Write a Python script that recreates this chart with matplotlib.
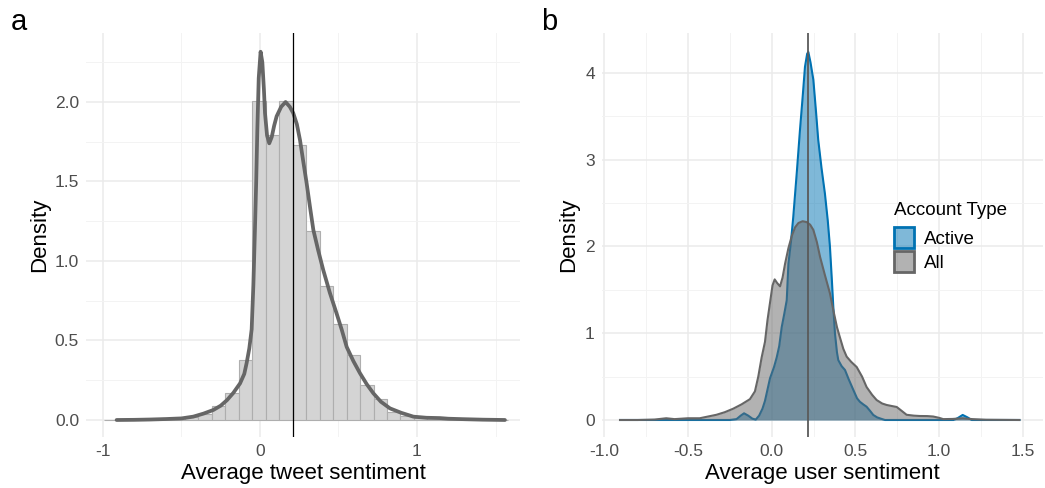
import matplotlib
matplotlib.use("Agg")
import matplotlib.pyplot as plt
from matplotlib.patches import Patch
from matplotlib.ticker import MultipleLocator
import numpy as np

plt.rcParams.update({
    "font.family": ["Liberation Sans", "DejaVu Sans"],
    "axes.unicode_minus": False,
})

GRID_MAJ = "#EBEBEB"
GRID_MIN = "#F3F3F3"
TICK_COL = "#4D4D4D"
BLUE = "#0072B2"
GREY = "#666666"

# ── panel a: histogram of tweet sentiment (30 bins) ───────────────────────────
bin_start = -0.995
bin_width = 0.0859
hist_heights = [0.003, 0.003, 0.003, 0.003, 0.005, 0.010, 0.020, 0.040,
                0.088, 0.168, 0.378, 2.006, 1.794, 2.006, 1.730, 1.186,
                0.844, 0.604, 0.407, 0.220, 0.130, 0.050, 0.025, 0.015,
                0.010, 0.008, 0.005, 0.004, 0.003, 0.003]

tweet_x = [-0.913, -0.8, -0.7, -0.6, -0.5, -0.425, -0.36, -0.297, -0.25, -0.21,
           -0.17, -0.127, -0.1, -0.085, -0.068, -0.053, -0.042, -0.032, -0.024,
           -0.017, -0.008, 0.004, 0.015, 0.025, 0.032, 0.045, 0.059, 0.075, 0.09,
           0.106, 0.135, 0.163, 0.19, 0.212, 0.235, 0.255, 0.275, 0.297, 0.32,
           0.34, 0.37, 0.403, 0.445, 0.488, 0.52, 0.552, 0.595, 0.637, 0.68,
           0.722, 0.77, 0.828, 0.9, 0.977, 1.06, 1.146, 1.2, 1.3, 1.42, 1.56]
tweet_y = [0.0, 0.001, 0.003, 0.006, 0.010, 0.021, 0.040, 0.063, 0.090, 0.125,
           0.170, 0.230, 0.290, 0.358, 0.450, 0.570, 0.850, 1.200, 1.500,
           1.820, 2.150, 2.316, 2.250, 2.080, 1.930, 1.790, 1.740, 1.780, 1.850,
           1.910, 1.970, 2.000, 1.970, 1.930, 1.860, 1.760, 1.630, 1.490, 1.330,
           1.195, 1.070, 0.943, 0.800, 0.670, 0.570, 0.460, 0.370, 0.294, 0.225,
           0.168, 0.115, 0.073, 0.045, 0.021, 0.014, 0.012, 0.008, 0.005, 0.002, 0.0]
tweet_mean = 0.212

# ── panel b: user sentiment densities ─────────────────────────────────────────
active_x = [-0.906, -0.6, -0.25, -0.21, -0.185, -0.165, -0.14, -0.115, -0.095,
            -0.075, -0.055, -0.04, -0.025, -0.01, 0.014, 0.03, 0.045, 0.06,
            0.075, 0.09, 0.1, 0.115, 0.129, 0.15, 0.169, 0.185, 0.199, 0.212,
            0.219, 0.232, 0.249, 0.265, 0.278, 0.298, 0.318, 0.335, 0.348, 0.36,
            0.368, 0.378, 0.39, 0.398, 0.418, 0.438, 0.46, 0.488, 0.51, 0.527,
            0.547, 0.567, 0.59, 0.607, 0.63, 0.657, 0.677, 1.086, 1.11, 1.141,
            1.17, 1.195, 1.48]
active_y = [0.0, 0.0, 0.0, 0.01, 0.05, 0.077, 0.05, 0.015, 0.005,
            0.05, 0.13, 0.22, 0.35, 0.48, 0.61, 0.72, 0.85, 1.07,
            1.22, 1.38, 1.8, 2.05, 2.34, 2.85, 3.34, 3.72, 4.07, 4.22,
            4.24, 4.12, 3.92, 3.55, 3.23, 2.9, 2.61, 2.3, 2.0, 1.6,
            1.31, 1.0, 0.78, 0.69, 0.62, 0.576, 0.47, 0.346, 0.25, 0.21,
            0.18, 0.153, 0.1, 0.058, 0.03, 0.012, 0.0, 0.0, 0.02, 0.058,
            0.03, 0.0, 0.0]

all_x = [-0.906, -0.8, -0.7, -0.63, -0.58, -0.5, -0.43, -0.38, -0.33, -0.28,
         -0.23, -0.18, -0.13, -0.1, -0.08, -0.06, -0.04, -0.025, -0.01, 0.005,
         0.018, 0.032, 0.05, 0.065, 0.08, 0.1, 0.12, 0.14, 0.16, 0.185, 0.209,
         0.23, 0.249, 0.27, 0.289, 0.318, 0.348, 0.37, 0.39, 0.408, 0.428,
         0.448, 0.475, 0.508, 0.54, 0.567, 0.6, 0.627, 0.66, 0.687, 0.72,
         0.747, 0.78, 0.806, 0.85, 0.885, 0.93, 0.965, 1.0, 1.025, 1.08, 1.14,
         1.2, 1.28, 1.48]
all_y = [0.0, 0.0, 0.005, 0.02, 0.01, 0.02, 0.02, 0.04, 0.06, 0.09,
         0.13, 0.18, 0.24, 0.33, 0.5, 0.72, 0.9, 1.15, 1.35, 1.55,
         1.62, 1.58, 1.54, 1.64, 1.8, 1.98, 2.12, 2.22, 2.27, 2.29, 2.28,
         2.25, 2.19, 2.05, 1.88, 1.67, 1.46, 1.25, 1.07, 0.95, 0.82,
         0.73, 0.67, 0.61, 0.5, 0.38, 0.29, 0.23, 0.19, 0.173, 0.16,
         0.15, 0.1, 0.06, 0.05, 0.046, 0.045, 0.04, 0.025, 0.01, 0.012, 0.02,
         0.01, 0.003, 0.0]
user_mean = 0.219

account_types = ["Active", "All"]

W, H = 1045, 488
fig = plt.figure(figsize=(W / 100, H / 100), dpi=100)


def px_axes(left, right, top, bottom):
    return fig.add_axes([left / W, 1 - bottom / H, (right - left) / W, (bottom - top) / H])


def style(ax):
    for s in ax.spines.values():
        s.set_visible(False)
    ax.grid(True, which="major", color=GRID_MAJ, lw=1.1, zorder=0)
    ax.grid(True, which="minor", color=GRID_MIN, lw=0.7, zorder=0)
    ax.tick_params(which="both", length=0, labelsize=12.5, labelcolor=TICK_COL, pad=5)
    ax.set_axisbelow(True)


# panel a
ax1 = px_axes(86, 520, 33, 437)
style(ax1)
edges = bin_start + bin_width * np.arange(len(hist_heights))
ax1.bar(edges, hist_heights, width=bin_width, align="edge",
        facecolor="#D4D4D4", edgecolor="#AEAEAE", lw=0.8, zorder=2)
ax1.plot(tweet_x, tweet_y, color=GREY, lw=2.7, solid_capstyle="round", zorder=3)
ax1.axvline(tweet_mean, color="black", lw=0.9, zorder=4)
ax1.set_xlim(-1.108, 1.656)
ax1.set_ylim(-0.107, 2.434)
ax1.xaxis.set_minor_locator(MultipleLocator(0.5))
ax1.yaxis.set_minor_locator(MultipleLocator(0.25))
ax1.set_xticks([-1, 0, 1])
ax1.set_xticklabels(["-1", "0", "1"])
ax1.set_yticks([0, 0.5, 1.0, 1.5, 2.0])
ax1.set_yticklabels(["0.0", "0.5", "1.0", "1.5", "2.0"])
ax1.set_xlabel("Average tweet sentiment", fontsize=16, labelpad=3)
ax1.set_ylabel("Density", fontsize=16, labelpad=3)

# panel b
ax2 = px_axes(601.7, 1043, 33, 437)
style(ax2)
ax2.fill_between(active_x, active_y, color=BLUE, alpha=0.5, lw=0, zorder=2)
ax2.plot(active_x, active_y, color=BLUE, lw=1.5, zorder=2)
ax2.fill_between(all_x, all_y, color=GREY, alpha=0.5, lw=0, zorder=3)
ax2.plot(all_x, all_y, color=GREY, lw=1.5, zorder=3)
ax2.axvline(user_mean, color="#5A5A5A", lw=1.3, zorder=4)
ax2.set_xlim(-1.0155, 1.621)
ax2.set_ylim(-0.196, 4.459)
ax2.xaxis.set_minor_locator(MultipleLocator(0.25))
ax2.yaxis.set_minor_locator(MultipleLocator(0.5))
ax2.set_xticks([-1.0, -0.5, 0.0, 0.5, 1.0, 1.5])
ax2.set_xticklabels(["-1.0", "-0.5", "0.0", "0.5", "1.0", "1.5"])
ax2.set_yticks([0, 1, 2, 3, 4])
ax2.set_yticklabels(["0", "1", "2", "3", "4"])
ax2.set_xlabel("Average user sentiment", fontsize=16, labelpad=3)
ax2.set_ylabel("Density", fontsize=16, labelpad=4)

handles = [Patch(facecolor=(0, 0x72 / 255, 0xB2 / 255, 0.5), edgecolor=BLUE, lw=2),
           Patch(facecolor=(0.4, 0.4, 0.4, 0.5), edgecolor=GREY, lw=2)]
leg = ax2.legend(handles, account_types, title="Account Type", loc="upper left",
                 bbox_to_anchor=(894 / W, 1 - 202 / H), bbox_transform=fig.transFigure,
                 frameon=False, fontsize=13.5, title_fontsize=13.5, alignment="left",
                 handlelength=1.05, handleheight=1.35, labelspacing=0.15,
                 handletextpad=0.55, borderpad=0, borderaxespad=0)
leg._legend_box.sep = 6

fig.text(11 / W, 1 - 30 / H, "a", fontsize=21, va="baseline", ha="left")
fig.text(541 / W, 1 - 30 / H, "b", fontsize=21, va="baseline", ha="left")

fig.savefig("out.png", dpi=100, facecolor="white")
